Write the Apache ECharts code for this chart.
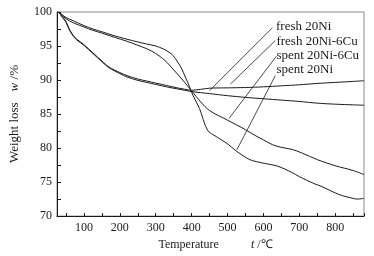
<!DOCTYPE html>
<html><head><meta charset="utf-8">
<script src="https://cdn.jsdelivr.net/npm/echarts@6/dist/echarts.min.js"></script>
<style>html,body{margin:0;padding:0;background:#fff}#c{width:374px;height:256px}</style>
</head><body><div id="c"></div>
<script>
// Data (temperature in °C, weight in %)
const fresh20NiT = [30,40,50,60,71,80,100,125,150,170,200,220,250,275,300,330,360,380,400,450,500,550,600,650,700,750,800,850,880];
const fresh20NiW = [100,99.3,98.6,97.4,96.5,96.0,95.2,94.0,92.8,91.9,91.1,90.65,90.15,89.85,89.55,89.2,88.85,88.65,88.5,88.8,88.85,88.9,89.0,89.15,89.3,89.5,89.65,89.8,89.9];
const fresh20Ni6CuT = [30,40,50,60,71,80,100,125,150,170,200,220,250,275,300,330,360,380,400,450,500,550,600,650,700,750,800,850,880];
const fresh20Ni6CuW = [100,99.2,98.5,97.3,96.4,95.9,95.1,93.9,92.7,91.8,90.95,90.45,89.95,89.65,89.35,89.0,88.7,88.5,88.3,88.0,87.7,87.45,87.25,87.05,86.85,86.6,86.45,86.35,86.3];
const spent20Ni6CuT = [30,50,71,100,125,150,184,220,250,275,300,325,350,375,400,425,450,500,550,575,600,625,650,680,706,750,800,850,880];
const spent20Ni6CuW = [100,99.0,98.4,97.8,97.3,96.9,96.3,95.7,95.1,94.6,93.9,92.9,91.5,90.0,88.4,86.8,85.5,84.1,82.7,81.9,81.2,80.5,80.1,79.8,79.3,78.3,77.4,76.7,76.1];
const spent20NiT = [30,50,71,100,125,150,179,220,250,274,300,320,337,350,359,370,377,391,404,422,444,468,498,526,562,598,639,680,700,740,760,800,820,850,860,880];
const spent20NiW = [100,99.2,98.7,98.0,97.5,97.1,96.6,96.0,95.6,95.3,95.0,94.6,94.1,93.5,92.8,91.9,91.1,89.4,87.7,85.8,82.65,81.7,80.7,79.5,78.3,77.8,77.35,76.4,75.8,74.8,74.4,73.4,73.0,72.6,72.5,72.6];
// tick label values
const xLabels = [100,200,300,400,500,600,700,800];
const yLabels = [70,75,80,85,90,95,100];
// annotations: label anchor [t, w], leader start [t, w], leader end [t, w]
const labelNames = ['fresh 20Ni','fresh 20Ni-6Cu','spent 20Ni-6Cu','spent 20Ni'];
const labelAnchors = [[635,97.83],[636,95.72],[636,93.62],[636,91.59]];
const leaderStarts = [[625,97.68],[633,95.8],[636,93.5],[633,90.65]];
const leaderEnds = [[450,88.45],[508,89.4],[504,84.35],[526,79.75]];

const FONT = '"Liberation Serif","Times New Roman",serif';
const C = '#1a1a1a';
const zip = (t, w) => t.map((x, i) => [x, w[i]]);
const sets = [[fresh20NiT,fresh20NiW],[fresh20Ni6CuT,fresh20Ni6CuW],[spent20Ni6CuT,spent20Ni6CuW],[spent20NiT,spent20NiW]];

const series = sets.map((s, i) => ({
  type: 'line', name: labelNames[i], data: zip(s[0], s[1]), showSymbol: false, smooth: 0.3,
  lineStyle: { color: C, width: 1 }, silent: true, z: 3,
  markLine: {
    silent: true, symbol: ['none','none'],
    lineStyle: { color: C, width: 0.8, type: 'solid' },
    label: { show: false },
    data: [[{ coord: leaderStarts[i] }, { coord: leaderEnds[i] }]]
  },
  markPoint: {
    silent: true, symbol: 'circle', symbolSize: 0,
    label: { show: true, position: 'right', distance: 0, formatter: labelNames[i], color: C, fontFamily: FONT, fontSize: 13 },
    data: [{ coord: labelAnchors[i] }]
  }
}));

const chart = echarts.init(document.getElementById('c'), null, { renderer: 'canvas' });
chart.setOption({
  animation: false,
  backgroundColor: '#fff',
  grid: { left: 48, right: 10, top: 12, bottom: 37, show: true, borderColor: '#8a8a8a', borderWidth: 1, containLabel: false },
  xAxis: {
    type: 'value', min: 25, max: 880, minInterval: 50, maxInterval: 50,
    name: '{a|Temperature}{g|}{i|t}{a| /℃}', nameLocation: 'middle', nameGap: 20,
    nameTextStyle: { padding: [0, 0, 0, 10], rich: { a: { fontFamily: FONT, fontSize: 12, color: C }, g: { width: 32 }, i: { fontFamily: FONT, fontSize: 12, fontStyle: 'italic', color: C } } },
    axisLine: { show: true, lineStyle: { color: C, width: 1 } },
    axisTick: { show: true, inside: true, length: 3, lineStyle: { color: C } },
    axisLabel: { color: C, fontFamily: FONT, fontSize: 12, margin: 6, showMinLabel: true, showMaxLabel: true,
      formatter: v => xLabels.indexOf(v) >= 0 ? String(v) : '' },
    splitLine: { show: false }
  },
  yAxis: {
    type: 'value', min: 70, max: 100, interval: 2.5,
    name: '{a|Weight loss}{g|}{i|w}{a| /%}', nameLocation: 'middle', nameGap: 36, nameRotate: 90,
    nameTextStyle: { rich: { a: { fontFamily: FONT, fontSize: 13, color: C }, g: { width: 11 }, i: { fontFamily: FONT, fontSize: 13, fontStyle: 'italic', color: C } } },
    axisLine: { show: true, lineStyle: { color: C, width: 1 } },
    axisTick: { show: true, inside: true, length: 4, lineStyle: { color: C } },
    axisLabel: { color: C, fontFamily: FONT, fontSize: 12, margin: 5,
      formatter: v => yLabels.indexOf(v) >= 0 ? String(v) : '' },
    splitLine: { show: false }
  },
  series: series
});
</script></body></html>
